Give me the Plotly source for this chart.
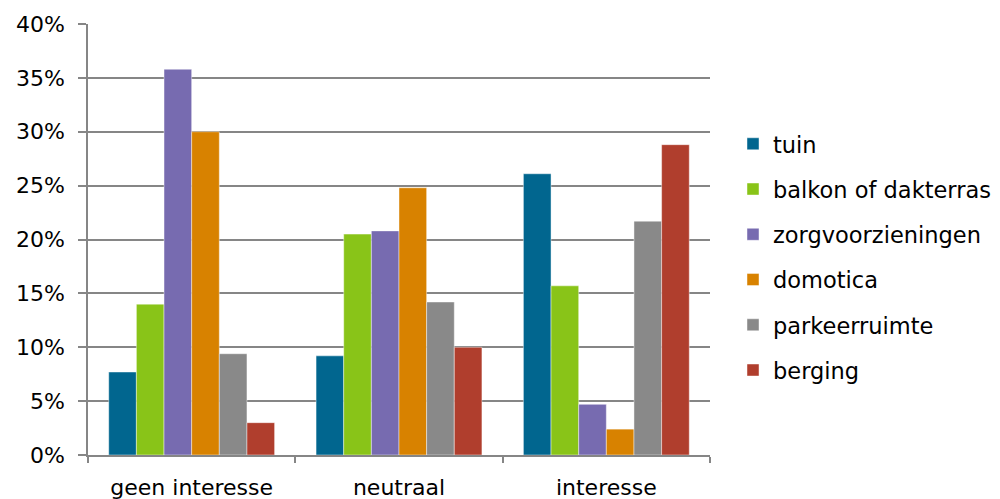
import plotly.graph_objects as go

# Survey answers per amenity, share of respondents per interest level
categories = ["geen interesse", "neutraal", "interesse"]

tuin = [0.077, 0.092, 0.261]
balkon_of_dakterras = [0.140, 0.205, 0.157]
zorgvoorzieningen = [0.358, 0.208, 0.047]
domotica = [0.300, 0.248, 0.024]
parkeerruimte = [0.094, 0.142, 0.217]
berging = [0.030, 0.100, 0.288]

series = [
    ("tuin", tuin, "#01668F"),
    ("balkon of dakterras", balkon_of_dakterras, "#89C418"),
    ("zorgvoorzieningen", zorgvoorzieningen, "#776BB0"),
    ("domotica", domotica, "#D88200"),
    ("parkeerruimte", parkeerruimte, "#898989"),
    ("berging", berging, "#B03E2D"),
]

y_ticks = [0, 0.05, 0.10, 0.15, 0.20, 0.25, 0.30, 0.35, 0.40]
y_tick_text = ["0%", "5%", "10%", "15%", "20%", "25%", "30%", "35%", "40%"]

FONT = "DejaVu Sans"
AXIS_GRAY = "#868686"

fig = go.Figure()
for i, (name, values, color) in enumerate(series):
    fig.add_trace(go.Bar(
        x=categories,
        y=values,
        name=name,
        legendgroup=f"g{i}",
        marker=dict(color=color, line=dict(color="rgba(255,255,255,0.55)", width=0.8)),
    ))

fig.update_layout(
    width=1000,
    height=499,
    margin=dict(l=88, r=290, t=24, b=44, autoexpand=False),
    paper_bgcolor="white",
    plot_bgcolor="white",
    barmode="group",
    bargap=0.2,
    bargroupgap=0,
    font=dict(family=FONT, size=22, color="black"),
    legend=dict(
        x=1.037,
        xanchor="left",
        y=0.459,
        yanchor="middle",
        font=dict(family=FONT, size=22.5, color="black"),
        tracegroupgap=13,
        itemwidth=30,
        bgcolor="rgba(0,0,0,0)",
    ),
    xaxis=dict(
        showline=True,
        linecolor=AXIS_GRAY,
        linewidth=1.5,
        ticks="outside",
        tickson="boundaries",
        ticklen=6,
        tickcolor=AXIS_GRAY,
        tickwidth=1.5,
        showgrid=False,
        ticklabelstandoff=12,
        tickfont=dict(family=FONT, size=22),
    ),
    yaxis=dict(
        range=[0, 0.4],
        tickvals=y_ticks,
        ticktext=y_tick_text,
        showline=True,
        linecolor=AXIS_GRAY,
        linewidth=1.5,
        ticks="outside",
        ticklen=8,
        tickcolor=AXIS_GRAY,
        tickwidth=1.5,
        showgrid=True,
        gridcolor=AXIS_GRAY,
        gridwidth=1.5,
        zeroline=False,
        ticklabelstandoff=9,
        tickfont=dict(family=FONT, size=22),
    ),
)

fig.write_html("out.html")
